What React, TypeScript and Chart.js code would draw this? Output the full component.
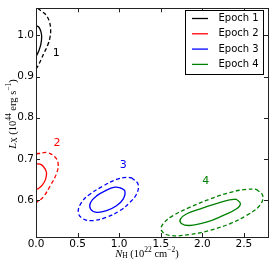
import React, { useEffect, useRef } from "react";
import { Chart, registerables } from "chart.js";
Chart.register(...registerables);

const epochs = ["Epoch 1", "Epoch 2", "Epoch 3", "Epoch 4"];
const colors = ["#000000", "#ff0000", "#0000ff", "#008000"];
const labelText = ["1", "2", "3", "4"];
const labelX = [0.244, 0.252, 1.048, 2.04];
const labelY = [0.958, 0.738, 0.685, 0.646];
const xTicks = [0, 0.5, 1.0, 1.5, 2.0, 2.5];
const yTicks = [0.6, 0.7, 0.8, 0.9, 1.0];

// Epoch 1 contours
const e1InX = [0, 0.035, 0.058, 0.068, 0.06, 0.04, 0.012, 0];
const e1InY = [1.024, 1.02, 1.01, 0.998, 0.98, 0.966, 0.953, 0.948];
const e1OutX = [0.02, 0.06, 0.12, 0.16, 0.176, 0.168, 0.14, 0.098, 0.06, 0.024, 0];
const e1OutY = [1.066, 1.06, 1.05, 1.034, 1.015, 0.995, 0.976, 0.958, 0.941, 0.926, 0.918];
// Epoch 2 contours
const e2InX = [0, 0.05, 0.09, 0.125, 0.115, 0.075, 0.03, 0];
const e2InY = [0.688, 0.687, 0.681, 0.668, 0.65, 0.636, 0.628, 0.626];
const e2OutX = [0, 0.03, 0.14, 0.225, 0.265, 0.25, 0.17, 0.09, 0.02, 0];
const e2OutY = [0.712, 0.713, 0.715, 0.705, 0.69, 0.666, 0.634, 0.608, 0.596, 0.594];
// Epoch 3 contours
const e3InX = [1.008, 1.068, 1.048, 0.968, 0.848, 0.728, 0.656, 0.656, 0.728, 0.848, 0.948, 1.008];
const e3InY = [0.63, 0.622, 0.602, 0.586, 0.574, 0.57, 0.578, 0.594, 0.61, 0.624, 0.631, 0.63];
const e3OutX = [1.148, 1.228, 1.208, 1.128, 1.008, 0.848, 0.688, 0.568, 0.508, 0.548, 0.648, 0.808, 0.968, 1.088, 1.148];
const e3OutY = [0.654, 0.638, 0.614, 0.594, 0.574, 0.558, 0.55, 0.554, 0.57, 0.594, 0.614, 0.634, 0.65, 0.655, 0.654];
// Epoch 4 contours
const e4InX = [2.408, 2.458, 2.408, 2.248, 2.048, 1.848, 1.748, 1.738, 1.808, 1.968, 2.168, 2.328, 2.408];
const e4InY = [0.602, 0.591, 0.578, 0.562, 0.546, 0.538, 0.543, 0.554, 0.566, 0.578, 0.591, 0.6, 0.602];
const e4OutX = [2.648, 2.728, 2.688, 2.528, 2.328, 2.088, 1.848, 1.608, 1.508, 1.528, 1.648, 1.848, 2.088, 2.328, 2.528, 2.648];
const e4OutY = [0.626, 0.61, 0.586, 0.562, 0.542, 0.526, 0.516, 0.514, 0.526, 0.542, 0.562, 0.582, 0.602, 0.618, 0.626, 0.626];

const inner = [
  [e1InX, e1InY],
  [e2InX, e2InY],
  [e3InX, e3InY],
  [e4InX, e4InY],
];
const outer = [
  [e1OutX, e1OutY],
  [e2OutX, e2OutY],
  [e3OutX, e3OutY],
  [e4OutX, e4OutY],
];

const zip = (xs: number[], ys: number[]) => xs.map((x, i) => ({ x, y: ys[i] }));

type Part = { t: string; f: string; dy: number };
const SERIF = "'Liberation Serif'";
const big = `10.5px ${SERIF}`;
const small = `7.5px ${SERIF}`;
const yTitle: Part[] = [
  { t: "L", f: `italic ${big}`, dy: 0 },
  { t: "X", f: small, dy: 2.5 },
  { t: " (10", f: big, dy: 0 },
  { t: "44", f: small, dy: -4 },
  { t: " erg s", f: big, dy: 0 },
  { t: "\u22121", f: small, dy: -4 },
  { t: ")", f: big, dy: 0 },
];
const xTitle: Part[] = [
  { t: "N", f: `italic ${big}`, dy: 0 },
  { t: "H", f: small, dy: 2.5 },
  { t: " (10", f: big, dy: 0 },
  { t: "22", f: small, dy: -4 },
  { t: " cm", f: big, dy: 0 },
  { t: "\u22122", f: small, dy: -4 },
  { t: ")", f: big, dy: 0 },
];

function drawParts(ctx: CanvasRenderingContext2D, parts: Part[], cx: number, cy: number, rot: number) {
  ctx.save();
  ctx.translate(cx, cy);
  ctx.rotate(rot);
  let w = 0;
  for (const p of parts) {
    ctx.font = p.f;
    w += ctx.measureText(p.t).width;
  }
  let x = -w / 2;
  ctx.fillStyle = "#000";
  ctx.textBaseline = "middle";
  ctx.textAlign = "left";
  for (const p of parts) {
    ctx.font = p.f;
    ctx.fillText(p.t, x, p.dy);
    x += ctx.measureText(p.t).width;
  }
  ctx.restore();
}

const decor = {
  id: "decor",
  afterDraw(chart: any) {
    const ctx: CanvasRenderingContext2D = chart.ctx;
    const { left, right, top, bottom } = chart.chartArea;
    const xs = chart.scales.x;
    const ys = chart.scales.y;
    ctx.save();
    // frame
    ctx.strokeStyle = "#222";
    ctx.lineWidth = 1;
    ctx.strokeRect(Math.round(left) + 0.5, Math.round(top) + 0.5, Math.round(right - left), Math.round(bottom - top));
    // inward ticks
    const tl = 4;
    ctx.beginPath();
    for (const v of xTicks) {
      const px = Math.round(xs.getPixelForValue(v)) + 0.5;
      ctx.moveTo(px, bottom);
      ctx.lineTo(px, bottom - tl);
      ctx.moveTo(px, top);
      ctx.lineTo(px, top + tl);
    }
    for (const v of yTicks) {
      const py = Math.round(ys.getPixelForValue(v)) + 0.5;
      ctx.moveTo(left, py);
      ctx.lineTo(left + tl, py);
      ctx.moveTo(right, py);
      ctx.lineTo(right - tl, py);
    }
    ctx.stroke();
    // contour labels
    ctx.font = "11px 'DejaVu Sans'";
    ctx.textAlign = "center";
    ctx.textBaseline = "middle";
    labelText.forEach((t, i) => {
      ctx.fillStyle = colors[i];
      ctx.fillText(t, xs.getPixelForValue(labelX[i]), ys.getPixelForValue(labelY[i]));
    });
    // legend
    const lx = 185.5, ly = 10.5, lw = 78, lh = 64;
    ctx.fillStyle = "#fff";
    ctx.fillRect(lx, ly, lw, lh);
    ctx.strokeStyle = "#000";
    ctx.lineWidth = 1;
    ctx.strokeRect(lx, ly, lw, lh);
    ctx.font = "10px 'DejaVu Sans'";
    ctx.textAlign = "left";
    epochs.forEach((e, i) => {
      const ry = 18.5 + i * 15.3;
      ctx.strokeStyle = colors[i];
      ctx.lineWidth = 1.3;
      ctx.beginPath();
      ctx.moveTo(192, ry);
      ctx.lineTo(208, ry);
      ctx.stroke();
      ctx.fillStyle = "#000";
      ctx.fillText(e, 218.5, ry);
    });
    // axis titles
    drawParts(ctx, yTitle, 13, 114, -Math.PI / 2);
    drawParts(ctx, xTitle, 147, 254, 0);
    ctx.restore();
  },
};

export default function App() {
  const ref = useRef<HTMLCanvasElement | null>(null);
  useEffect(() => {
    document.body.style.margin = "0";
    if (!ref.current) return;
    const datasets: any[] = [];
    epochs.forEach((e, i) => {
      datasets.push({
        label: e,
        data: zip(inner[i][0], inner[i][1]),
        showLine: true,
        borderColor: colors[i],
        borderWidth: 1.3,
        pointRadius: 0,
        tension: 0.4,
        fill: false,
      });
      datasets.push({
        label: e + " outer",
        data: zip(outer[i][0], outer[i][1]),
        showLine: true,
        borderColor: colors[i],
        borderWidth: 1.3,
        borderDash: [4, 2.5],
        pointRadius: 0,
        tension: 0.4,
        fill: false,
      });
    });
    const chart = new Chart(ref.current, {
      type: "scatter",
      data: { datasets },
      options: {
        animation: false,
        responsive: false,
        layout: { padding: { left: 0, top: 5, right: 6, bottom: 0 } },
        plugins: { legend: { display: false }, tooltip: { enabled: false } },
        scales: {
          x: {
            type: "linear",
            min: 0,
            max: 2.79,
            grid: { display: false, drawTicks: false },
            border: { display: false },
            afterFit: (s: any) => {
              s.height = 33;
            },
            afterBuildTicks: (s: any) => {
              s.ticks = xTicks.map((v) => ({ value: v }));
            },
            ticks: {
              padding: 1,
              color: "#000",
              font: { family: "'DejaVu Sans'", size: 10.5 },
              callback: (v: any) => Number(v).toFixed(1),
            },
          },
          y: {
            type: "linear",
            min: 0.51,
            max: 1.066,
            grid: { display: false, drawTicks: false },
            border: { display: false },
            afterFit: (s: any) => {
              s.width = 36;
            },
            afterBuildTicks: (s: any) => {
              s.ticks = yTicks.map((v) => ({ value: v }));
            },
            ticks: {
              padding: 2,
              color: "#000",
              font: { family: "'DejaVu Sans'", size: 10.5 },
              callback: (v: any) => Number(v).toFixed(1),
            },
          },
        },
      },
      plugins: [decor],
    });
    return () => chart.destroy();
  }, []);
  return (
    <div style={{ width: 274, height: 270 }}>
      <canvas ref={ref} width={274} height={270} />
    </div>
  );
}
